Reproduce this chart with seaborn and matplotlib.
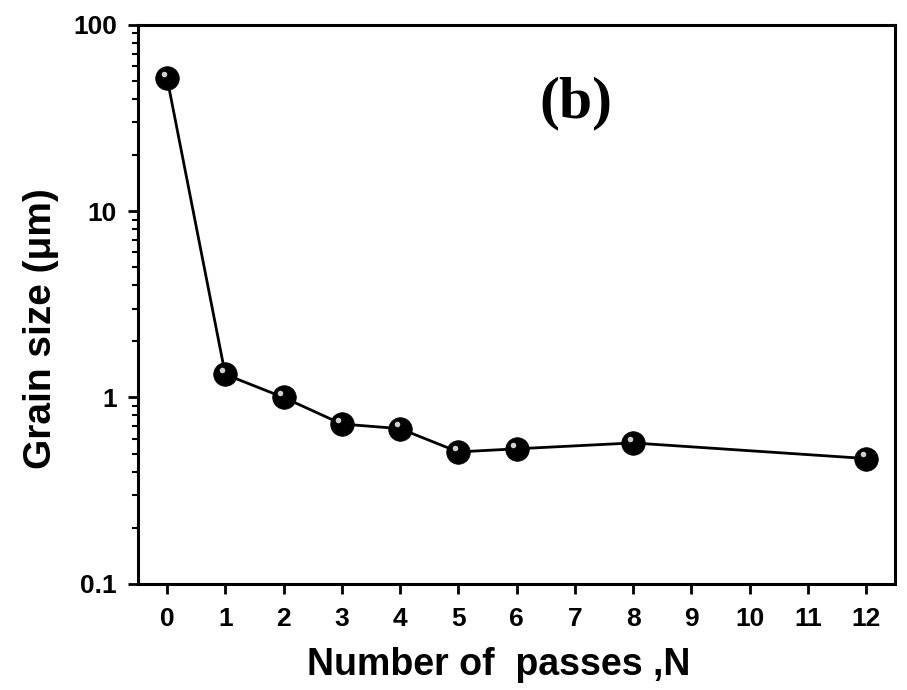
#!/usr/bin/python3
# -*- coding: utf-8 -*-

# --------------------------------------------------------------------
# Grain size vs. number of passes (log scale)
# --------------------------------------------------------------------
import numpy as np
import pandas as pd

import seaborn as sns

import matplotlib.pyplot as plt
import matplotlib.ticker as mticker
from matplotlib.transforms import offset_copy

import warnings
warnings.filterwarnings("ignore")

# *** ---------- data ----------
passes = [0, 1, 2, 3, 4, 5, 6, 8, 12]
grain_size = [52.0, 1.33, 1.0, 0.72, 0.68, 0.51, 0.53, 0.57, 0.47]

x_ticks = list(range(0, 13))
y_ticks = [0.1, 1, 10, 100]
y_tick_labels = ['0.1', '1', '10', '100']

df = pd.DataFrame({'N': passes, 'size': grain_size})

# *** ---------- style ----------
sns.set_style('ticks')
plt.rcParams['font.family'] = ['Liberation Sans', 'DejaVu Sans']
plt.rcParams['font.weight'] = 'bold'
plt.rcParams['text.color'] = 'black'
plt.rcParams['axes.labelcolor'] = 'black'
plt.rcParams['xtick.color'] = 'black'
plt.rcParams['ytick.color'] = 'black'
plt.rcParams['axes.edgecolor'] = 'black'


fig = plt.figure(figsize=(9.07, 6.90), dpi=100)
ax = fig.add_axes([0.152, 0.154, 0.835, 0.810])

sns.lineplot(data=df, x='N', y='size', ax=ax, color='black', linewidth=2.0,
             marker='o', markersize=17, markeredgecolor='black',
             markerfacecolor='black', markeredgewidth=0.5)

# small highlight to mimic the ball-shaped markers
shine = offset_copy(ax.transData, fig=fig, x=-2.5, y=3.0, units='points')
ax.plot(df['N'], df['size'], linestyle='none', marker='o', markersize=4,
        markerfacecolor='#d0d0d0', markeredgecolor='none', transform=shine)

ax.set_yscale('log')
ax.set_xlim(-0.5, 12.5)
ax.set_ylim(0.1, 100)

ax.set_xticks(x_ticks)
ax.set_xticklabels([str(t) for t in x_ticks])
ax.set_yticks(y_ticks)
ax.set_yticklabels(y_tick_labels)
ax.yaxis.set_minor_locator(mticker.LogLocator(base=10, subs=np.arange(2, 10)))
ax.yaxis.set_minor_formatter(mticker.NullFormatter())

ax.tick_params(axis='both', which='major', direction='out', length=7, width=2,
               labelsize=19)
ax.tick_params(axis='x', which='major', pad=10)
ax.tick_params(axis='y', which='major', pad=8)
ax.tick_params(axis='y', which='minor', direction='out', length=4, width=1.5)

for sp in ax.spines.values():
    sp.set_linewidth(2.2)
    sp.set_visible(True)

ax.set_xlabel('Number of  passes ,N', fontsize=27, fontweight='bold', labelpad=11)
ax.set_ylabel('Grain size (μm)', fontsize=28, fontweight='bold', labelpad=10)
ax.xaxis.label.set_x(0.476)
ax.yaxis.label.set_y(0.457)

ax.text(0.53, 0.86, '(b)', transform=ax.transAxes, fontsize=43,
        fontweight='bold', family=['Liberation Serif', 'DejaVu Serif'],
        ha='left', va='center')

fig.savefig('out.png', dpi=100)
